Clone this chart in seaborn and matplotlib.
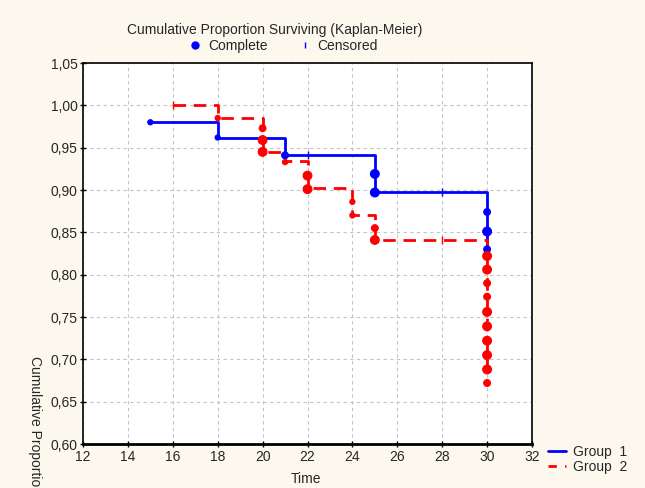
import numpy as np
import pandas as pd
import matplotlib
matplotlib.use("Agg")
import matplotlib.pyplot as plt
import seaborn as sns
from matplotlib.lines import Line2D
from matplotlib.ticker import FuncFormatter

# ---- data ----
g1_step_t = [15, 18, 21, 25, 30]
g1_step_s = [0.980, 0.962, 0.941, 0.898, 0.828]
g2_step_t = [16, 18, 20, 21, 22, 24, 25, 30]
g2_step_s = [1.000, 0.985, 0.945, 0.934, 0.902, 0.870, 0.841, 0.672]

g1_event_t = [15, 18, 21, 25, 25, 30, 30, 30]
g1_event_s = [0.980, 0.962, 0.941, 0.919, 0.897, 0.874, 0.851, 0.830]
g1_event_size = [14, 14, 24, 40, 40, 24, 40, 24]

g2_event_t = [18, 20, 20, 20, 21, 22, 22, 24, 24, 25, 25,
              30, 30, 30, 30, 30, 30, 30, 30, 30, 30]
g2_event_s = [0.985, 0.973, 0.959, 0.945, 0.933, 0.917, 0.901, 0.886, 0.870, 0.855, 0.841,
              0.822, 0.806, 0.790, 0.774, 0.756, 0.739, 0.722, 0.705, 0.688, 0.672]
g2_event_size = [14, 24, 40, 40, 14, 40, 40, 14, 14, 24, 40,
                 40, 40, 24, 24, 40, 40, 40, 40, 40, 24]

g1_cens_t = [22, 28]
g1_cens_s = [0.941, 0.898]
g2_cens_t = [16, 28]
g2_cens_s = [1.000, 0.841]

x_ticks = list(range(12, 33, 2))
y_ticks = [0.60, 0.65, 0.70, 0.75, 0.80, 0.85, 0.90, 0.95, 1.00, 1.05]

title = "Cumulative Proportion Surviving (Kaplan-Meier)"
xlabel = "Time"
ylabel = "Cumulative Proportion Surviving"

BLUE = "#0000FF"
RED = "#FF0000"
BG = "#FCF8EE"
FS = 10

sns.set_style("white")
plt.rcParams["font.family"] = ["Liberation Sans", "DejaVu Sans"]
plt.rcParams["font.size"] = FS

fig = plt.figure(figsize=(6.45, 4.88), dpi=100, facecolor=BG)
ax = fig.add_axes([83 / 645, 1 - 444 / 488, (532 - 83) / 645, (444 - 63) / 488])
ax.set_facecolor("white")

df1 = pd.DataFrame({"t": g1_step_t, "s": g1_step_s})
df2 = pd.DataFrame({"t": g2_step_t, "s": g2_step_s})
sns.lineplot(data=df1, x="t", y="s", ax=ax, color=BLUE, lw=2, drawstyle="steps-post",
             estimator=None, sort=False, zorder=3)
sns.lineplot(data=df2, x="t", y="s", ax=ax, color=RED, lw=2, drawstyle="steps-post",
             estimator=None, sort=False, zorder=3)
ax.lines[-1].set_dashes([4.5, 2.8])

e1 = pd.DataFrame({"t": g1_event_t, "s": g1_event_s, "sz": g1_event_size})
e2 = pd.DataFrame({"t": g2_event_t, "s": g2_event_s, "sz": g2_event_size})
sns.scatterplot(data=e1, x="t", y="s", size="sz", sizes=(14, 40), color=BLUE, ax=ax,
                legend=False, edgecolor=BLUE, linewidth=0.8, zorder=4)
sns.scatterplot(data=e2, x="t", y="s", size="sz", sizes=(14, 40), color=RED, ax=ax,
                legend=False, edgecolor=RED, linewidth=0.8, zorder=4)
c1 = pd.DataFrame({"t": g1_cens_t, "s": g1_cens_s})
c2 = pd.DataFrame({"t": g2_cens_t, "s": g2_cens_s})
sns.scatterplot(data=c1, x="t", y="s", marker="|", s=30, color=BLUE, ax=ax, legend=False,
                linewidth=1, zorder=4)
sns.scatterplot(data=c2, x="t", y="s", marker="|", s=30, color=RED, ax=ax, legend=False,
                linewidth=1, zorder=4)

ax.set_xlim(12, 32)
ax.set_ylim(0.60, 1.05)
ax.set_xticks(x_ticks)
ax.set_yticks(y_ticks)
ax.yaxis.set_major_formatter(FuncFormatter(lambda v, p: f"{v:.2f}".replace(".", ",")))
ax.xaxis.set_major_formatter(FuncFormatter(lambda v, p: f"{v:.0f}"))
ax.grid(True, color="#C4C4C4", linestyle=(0, (3, 3)), linewidth=0.8)
ax.set_axisbelow(True)
ax.tick_params(axis="both", direction="inout", length=4, width=1, color="black",
               labelsize=FS, pad=2, bottom=True, left=True)
for sp in ax.spines.values():
    sp.set_color("black")
    sp.set_linewidth(1.2)
ax.spines["bottom"].set_linewidth(2)
ax.set_xlabel("")
ax.set_ylabel("")

fig.text(306 / 645, 1 - 479 / 488, xlabel, ha="center", va="center", fontsize=FS)
fig.text(35 / 645, 1 - 356 / 488, ylabel, ha="center", va="top", rotation=-90, fontsize=FS)
fig.text(275 / 645, 1 - 30 / 488, title, ha="center", va="center", fontsize=FS)

top_handles = [
    Line2D([], [], marker="o", color=BLUE, linestyle="none", markersize=5),
    Line2D([], [], marker="|", color=BLUE, linestyle="none", markersize=4),
]
fig.legend(top_handles, ["Complete", "Censored"], loc="center", ncol=2, frameon=False,
           bbox_to_anchor=(283 / 645, 1 - 46 / 488), fontsize=FS, handlelength=1.0,
           handletextpad=0.4, columnspacing=2.2, borderpad=0)

bot_handles = [
    Line2D([], [], color=BLUE, lw=2),
    Line2D([], [], color=RED, lw=2, dashes=[3, 3]),
]
fig.legend(bot_handles, ["Group  1", "Group  2"], loc="upper left", frameon=False,
           bbox_to_anchor=(541 / 645, 1 - 438 / 488), fontsize=FS, handlelength=1.3,
           handletextpad=0.5, labelspacing=0.05, borderpad=0)

fig.savefig("out.png", dpi=100, facecolor=BG)
